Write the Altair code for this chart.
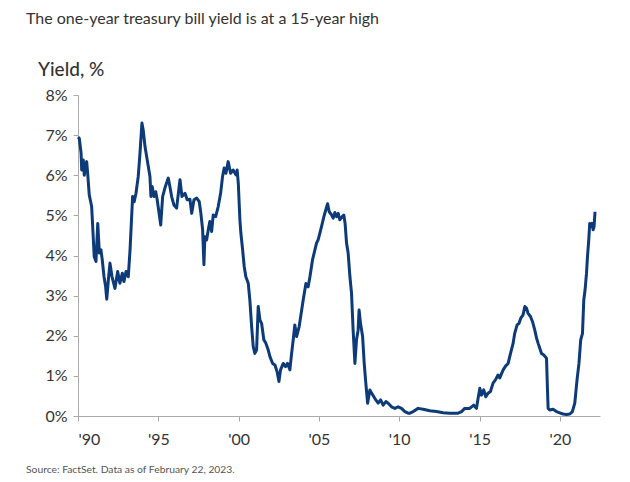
import altair as alt
import pandas as pd

years = [1990.00, 1990.08, 1990.19, 1990.23, 1990.33, 1990.39, 1990.54, 1990.60, 1990.70, 1990.85,
         1991.01, 1991.12, 1991.23, 1991.33, 1991.43, 1991.51, 1991.62, 1991.72, 1991.79, 1991.89,
         1991.99, 1992.12, 1992.30, 1992.47, 1992.61, 1992.76, 1992.86, 1992.99, 1993.13, 1993.24,
         1993.34, 1993.40, 1993.50, 1993.61, 1993.75, 1993.86, 1993.98, 1994.06, 1994.17, 1994.31,
         1994.48, 1994.54, 1994.62, 1994.73, 1994.84, 1994.93, 1995.15, 1995.27, 1995.41, 1995.62,
         1995.72, 1995.83, 1995.97, 1996.14, 1996.35, 1996.47, 1996.66, 1996.80, 1996.97, 1997.08,
         1997.22, 1997.39, 1997.55, 1997.65, 1997.76, 1997.84, 1997.90, 1998.01, 1998.11, 1998.21,
         1998.32, 1998.42, 1998.57, 1998.73, 1998.88, 1999.00, 1999.10, 1999.21, 1999.35, 1999.50,
         1999.66, 1999.83, 1999.91, 1999.98, 2000.08, 2000.14, 2000.25, 2000.35, 2000.45, 2000.60,
         2000.70, 2000.81, 2000.91, 2001.01, 2001.12, 2001.22, 2001.33, 2001.43, 2001.57, 2001.70,
         2001.84, 2001.95, 2002.12, 2002.26, 2002.40, 2002.51, 2002.61, 2002.78, 2002.92, 2003.05,
         2003.19, 2003.30, 2003.40, 2003.50, 2003.61, 2003.77, 2004.02, 2004.19, 2004.33, 2004.44,
         2004.60, 2004.75, 2004.85, 2004.95, 2005.06, 2005.16, 2005.31, 2005.43, 2005.54, 2005.64,
         2005.79, 2005.89, 2005.99, 2006.10, 2006.20, 2006.30, 2006.45, 2006.55, 2006.63, 2006.72,
         2006.82, 2006.93, 2007.03, 2007.13, 2007.24, 2007.34, 2007.44, 2007.50, 2007.59, 2007.72,
         2007.82, 2007.92, 2008.03, 2008.17, 2008.28, 2008.42, 2008.54, 2008.69, 2008.84, 2009.00,
         2009.17, 2009.31, 2009.52, 2009.73, 2009.93, 2010.14, 2010.35, 2010.55, 2010.66, 2010.87,
         2011.18, 2011.49, 2011.90, 2012.32, 2012.73, 2013.15, 2013.67, 2013.88, 2014.08, 2014.39,
         2014.64, 2014.81, 2014.91, 2015.02, 2015.12, 2015.26, 2015.39, 2015.53, 2015.68, 2015.84,
         2015.99, 2016.15, 2016.26, 2016.47, 2016.63, 2016.78, 2016.93, 2017.09, 2017.19, 2017.34,
         2017.46, 2017.57, 2017.71, 2017.82, 2017.92, 2018.02, 2018.17, 2018.30, 2018.44, 2018.55,
         2018.65, 2018.75, 2018.86, 2019.00, 2019.17, 2019.23, 2019.27, 2019.37, 2019.58, 2019.79,
         2019.99, 2020.20, 2020.41, 2020.62, 2020.78, 2020.93, 2021.07, 2021.19, 2021.30, 2021.41,
         2021.49, 2021.57, 2021.66, 2021.72, 2021.80, 2021.86, 2021.92, 2022.00, 2022.07, 2022.13,
         2022.19]

yields = [6.95, 6.92, 6.56, 6.13, 6.38, 6.00, 6.34, 6.06, 5.51, 5.22,
          3.97, 3.85, 4.80, 4.06, 4.14, 3.89, 3.47, 3.22, 2.91, 3.39,
          3.81, 3.47, 3.18, 3.60, 3.31, 3.56, 3.35, 3.60, 3.47, 4.14,
          4.97, 5.47, 5.34, 5.55, 5.97, 6.55, 7.30, 7.13, 6.72, 6.38,
          5.97, 5.47, 5.72, 5.47, 5.59, 5.39, 4.76, 5.47, 5.68, 5.93,
          5.72, 5.47, 5.26, 5.18, 5.89, 5.47, 5.55, 5.39, 5.40, 5.05,
          5.39, 5.43, 5.34, 5.05, 4.64, 3.77, 4.47, 4.39, 4.64, 4.85,
          4.60, 5.01, 4.97, 5.22, 5.55, 5.97, 6.18, 6.05, 6.34, 6.05,
          6.13, 6.01, 6.13, 5.80, 4.89, 4.56, 4.14, 3.72, 3.47, 3.31,
          2.89, 2.23, 1.73, 1.56, 1.65, 2.73, 2.39, 2.31, 1.90, 1.81,
          1.65, 1.48, 1.31, 1.27, 1.10, 0.86, 1.15, 1.31, 1.23, 1.31,
          1.15, 1.56, 1.90, 2.27, 1.98, 2.23, 2.89, 3.30, 3.22, 3.47,
          3.89, 4.14, 4.31, 4.39, 4.56, 4.72, 4.97, 5.14, 5.29, 5.09,
          5.01, 4.93, 5.07, 4.97, 5.05, 4.89, 4.97, 5.01, 4.80, 4.31,
          4.06, 3.47, 3.06, 2.14, 1.31, 1.90, 2.14, 2.64, 2.31, 1.98,
          1.31, 0.82, 0.32, 0.65, 0.57, 0.48, 0.40, 0.32, 0.40, 0.27,
          0.36, 0.32, 0.23, 0.19, 0.23, 0.19, 0.11, 0.07, 0.07, 0.11,
          0.19, 0.17, 0.13, 0.11, 0.08, 0.07, 0.07, 0.11, 0.19, 0.19,
          0.27, 0.19, 0.44, 0.69, 0.52, 0.65, 0.48, 0.57, 0.61, 0.82,
          0.90, 1.02, 0.95, 1.15, 1.25, 1.31, 1.56, 1.81, 2.06, 2.27,
          2.31, 2.44, 2.52, 2.73, 2.69, 2.56, 2.48, 2.35, 2.14, 1.94,
          1.81, 1.69, 1.56, 1.52, 1.44, 0.65, 0.19, 0.15, 0.17, 0.11,
          0.08, 0.05, 0.04, 0.05, 0.11, 0.32, 0.90, 1.31, 1.90, 2.06,
          2.89, 3.14, 3.56, 3.97, 4.39, 4.80, 4.72, 4.80, 4.64, 4.72,
          5.09]

x_ticks = [1990, 1995, 2000, 2005, 2010, 2015, 2020]
y_ticks = [0, 1, 2, 3, 4, 5, 6, 7, 8]

title_text = "The one-year treasury bill yield is at a 15-year high"
axis_title = "Yield, %"
source_text = "Source: FactSet. Data as of February 22, 2023."

df = pd.DataFrame({"year": years, "yield": yields})

FONT = "Lato"
TEXT_COLOR = "#333333"

line = alt.Chart(df).mark_line(color="#0d3a78", strokeWidth=3, strokeJoin="round").encode(
    x=alt.X("year:Q",
            scale=alt.Scale(domain=[1990, 2022.5], nice=False, zero=False),
            axis=alt.Axis(values=x_ticks, title=None,
                          labelExpr="\"'\" + slice(toString(datum.value), 2)",
                          grid=False, domainColor="#aaaaaa", tickColor="#aaaaaa",
                          tickSize=5, labelPadding=10, labelFontSize=16,
                          labelColor=TEXT_COLOR, labelFont=FONT)),
    y=alt.Y("yield:Q",
            scale=alt.Scale(domain=[0, 8], nice=False),
            axis=alt.Axis(values=y_ticks, title=None,
                          labelExpr="datum.value + '%'",
                          grid=False, domainColor="#aaaaaa", tickColor="#aaaaaa",
                          tickSize=5, labelPadding=6, labelFontSize=16,
                          labelColor=TEXT_COLOR, labelFont=FONT)),
)

def label(text, x, y, size, color=TEXT_COLOR, weight="normal"):
    return alt.Chart(pd.DataFrame({"t": [text]})).mark_text(
        align="left", baseline="alphabetic", fontSize=size, font=FONT,
        color=color, fontWeight=weight
    ).encode(text="t:N", x=alt.value(x), y=alt.value(y))

chart = alt.layer(
    line,
    label(title_text, -52, -71, 16),
    label(axis_title, -40, -19, 19, weight=500),
    label(source_text, -52, 378, 10.3, color="#555555"),
).properties(
    width=522, height=321,
    autosize=alt.AutoSizeParams(type="none"),
    padding={"left": 70, "top": 87, "right": 22, "bottom": 74},
).configure_view(stroke=None)

chart.save("out.html", embed_options={"renderer": "svg", "actions": False})
